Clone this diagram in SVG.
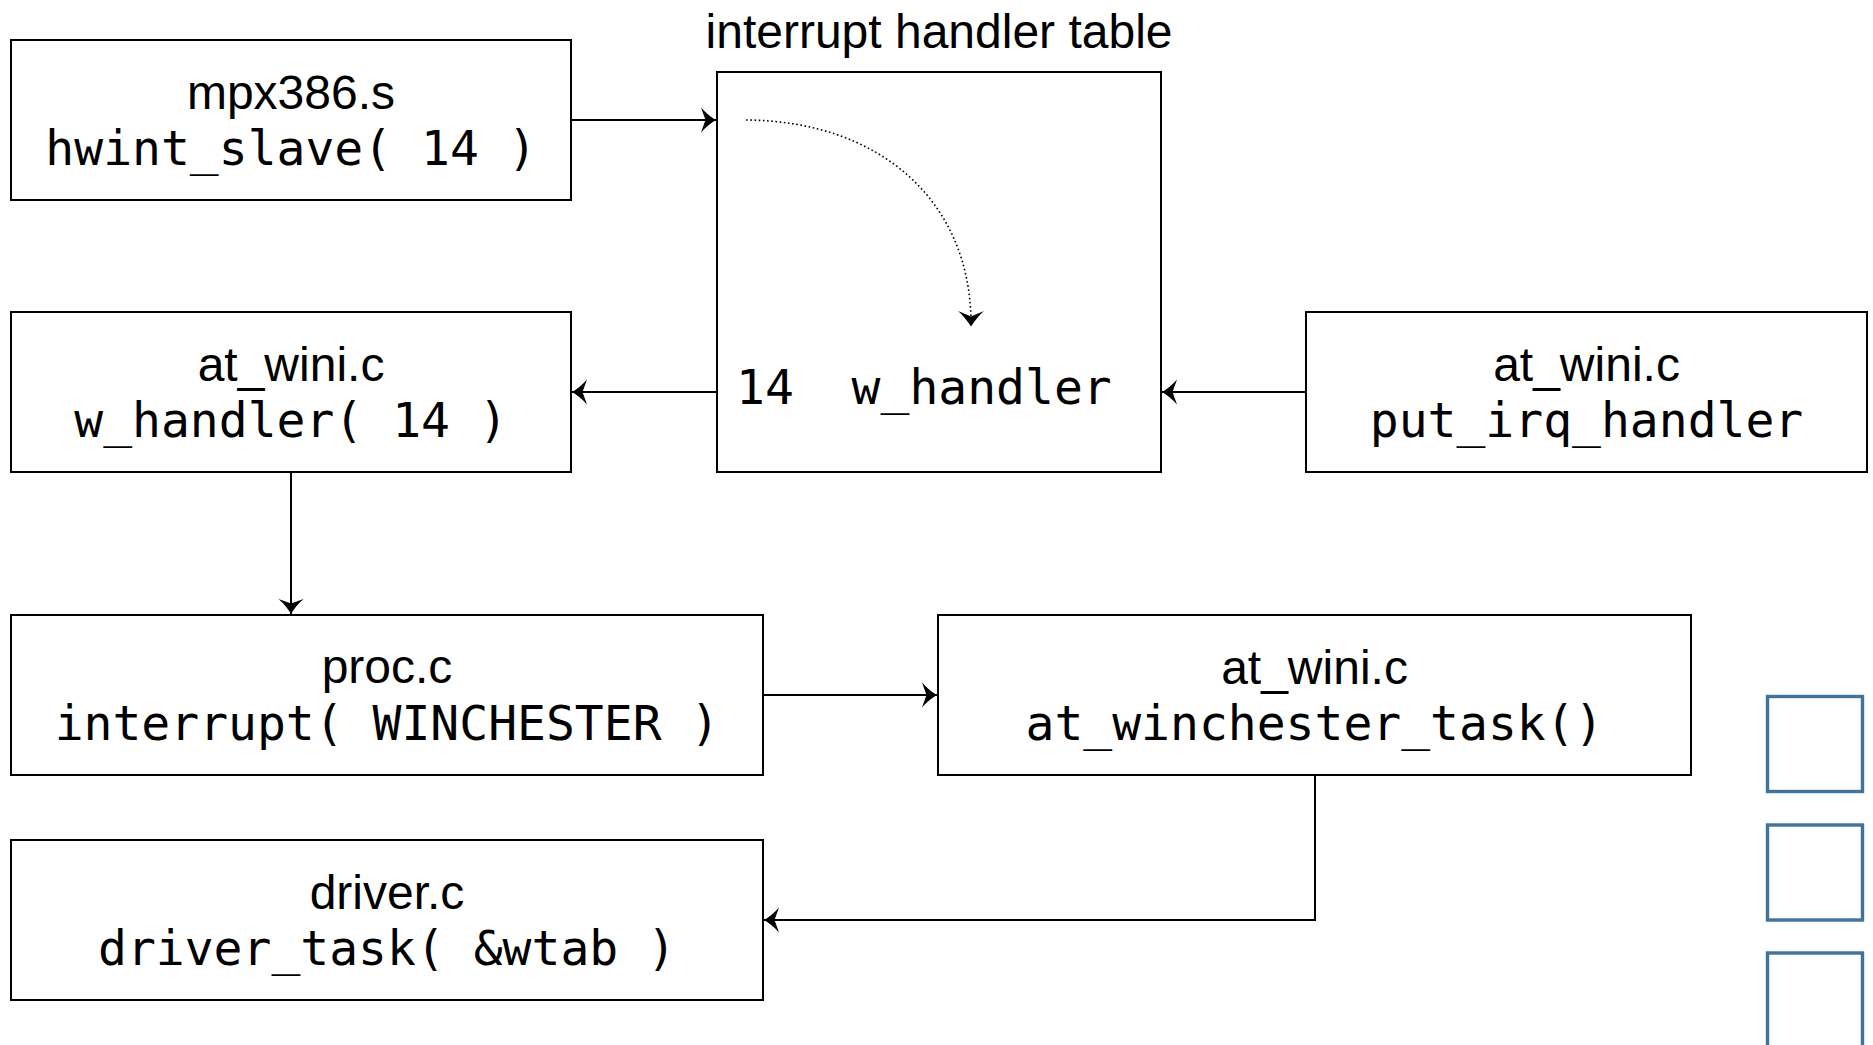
<svg xmlns="http://www.w3.org/2000/svg" width="1873" height="1045" viewBox="0 0 1873 1045">
<style>
.box{fill:#fff;stroke:#000;stroke-width:2}
.sans{font-family:"Liberation Sans",Arial,Helvetica,sans-serif;font-size:48px;fill:#000}
.mono{font-family:"DejaVu Sans Mono","Liberation Mono",monospace;font-size:48px;fill:#000}
.c{text-anchor:middle}
.edge{fill:none;stroke:#000;stroke-width:2}
.dot{fill:none;stroke:#000;stroke-width:1.6;stroke-dasharray:1.6 2.6}
.sq{fill:none;stroke:#40729a;stroke-width:3.4}
</style>
<defs>
<marker id="classic" markerUnits="userSpaceOnUse" viewBox="0 0 20 28" markerWidth="20" markerHeight="28" refX="17" refY="14" orient="auto">
<path d="M17,14 Q9,9.5 2,1.5 L6.5,14 L2,26.5 Q9,18.5 17,14 Z" fill="#000"/>
</marker>
</defs>
<rect width="1873" height="1045" fill="#fff"/>

<g id="connectors">
<path class="edge" d="M571,120 L716,120" marker-end="url(#classic)"/>
<path class="edge" d="M717,392 L572,392" marker-end="url(#classic)"/>
<path class="edge" d="M1306,392 L1162,392" marker-end="url(#classic)"/>
<path class="edge" d="M291,472 L291,614" marker-end="url(#classic)"/>
<path class="edge" d="M763,695 L937,695" marker-end="url(#classic)"/>
<path class="edge" d="M1315,775 L1315,920 L764,920" marker-end="url(#classic)"/>
</g>

<g id="table">
<text class="sans c" x="939" y="48">interrupt handler table</text>
<rect class="box" x="717" y="72" width="444" height="400"/>
<text class="mono" x="736" y="404" xml:space="preserve">14  w_handler</text>
<path class="dot" d="M746,120 C880,121 968,200 971,318"/>
<path d="M971,326.5 Q964,316 958,311 L971,316.5 L984,311 Q978,316 971,326.5 Z" fill="#000"/>
</g>

<g id="mpx386">
<rect class="box" x="11" y="40" width="560" height="160"/>
<text class="sans c" x="291" y="109">mpx386.s</text>
<text class="mono c" x="291" y="165">hwint_slave( 14 )</text>
</g>

<g id="w_handler">
<rect class="box" x="11" y="312" width="560" height="160"/>
<text class="sans c" x="291" y="381">at_wini.c</text>
<text class="mono c" x="291" y="437">w_handler( 14 )</text>
</g>

<g id="put_irq_handler">
<rect class="box" x="1306" y="312" width="561" height="160"/>
<text class="sans c" x="1586.5" y="381">at_wini.c</text>
<text class="mono c" x="1586.5" y="437">put_irq_handler</text>
</g>

<g id="proc">
<rect class="box" x="11" y="615" width="752" height="160"/>
<text class="sans c" x="387" y="683">proc.c</text>
<text class="mono c" x="387" y="740">interrupt( WINCHESTER )</text>
</g>

<g id="at_winchester_task">
<rect class="box" x="938" y="615" width="753" height="160"/>
<text class="sans c" x="1314.5" y="684">at_wini.c</text>
<text class="mono c" x="1314.5" y="740">at_winchester_task()</text>
</g>

<g id="driver">
<rect class="box" x="11" y="840" width="752" height="160"/>
<text class="sans c" x="387" y="909">driver.c</text>
<text class="mono c" x="387" y="965">driver_task( &amp;wtab )</text>
</g>

<g id="squares">
<rect class="sq" x="1767.5" y="696.5" width="95" height="95"/>
<rect class="sq" x="1767.5" y="825" width="95" height="95"/>
<rect class="sq" x="1767.5" y="953" width="95" height="95"/>
</g>
</svg>
